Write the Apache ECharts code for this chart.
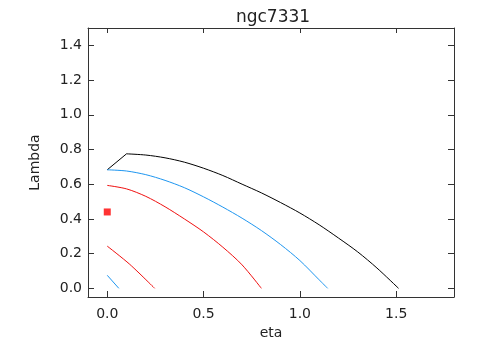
<!DOCTYPE html>
<html>
<head>
<meta charset="utf-8">
<script src="https://cdn.jsdelivr.net/npm/echarts@6/dist/echarts.min.js"></script>
<style>html,body{margin:0;padding:0;background:#fff}#c{width:481px;height:354px}</style>
</head>
<body>
<div id="c"></div>
<script>
var titleText = 'ngc7331';
var xName = 'eta';
var yName = 'Lambda';
var xTicks = [0, 0.5, 1.0, 1.5];
var yTicks = [0, 0.2, 0.4, 0.6, 0.8, 1.0, 1.2, 1.4];

var blackKinkX = [0, 0.1];
var blackKinkY = [0.683, 0.775];
var blackX = [0.1, 0.2, 0.3, 0.4, 0.5, 0.6, 0.7, 0.8, 0.9, 1.0, 1.1, 1.2, 1.3, 1.4, 1.512];
var blackY = [0.775, 0.768, 0.752, 0.727, 0.692, 0.65, 0.60, 0.55, 0.494, 0.434, 0.366, 0.29, 0.21, 0.117, 0.0];

var blueUpperX = [0, 0.1, 0.2, 0.3, 0.4, 0.5, 0.6, 0.7, 0.8, 0.9, 1.0, 1.1, 1.144];
var blueUpperY = [0.683, 0.676, 0.655, 0.622, 0.58, 0.527, 0.468, 0.404, 0.333, 0.252, 0.16, 0.049, 0.0];

var redUpperX = [0, 0.1, 0.2, 0.3, 0.4, 0.5, 0.6, 0.7, 0.8];
var redUpperY = [0.593, 0.573, 0.53, 0.47, 0.40, 0.325, 0.237, 0.135, 0.0];

var redLowerX = [0, 0.117, 0.246];
var redLowerY = [0.243, 0.138, 0.0];

var blueLowerX = [0, 0.06];
var blueLowerY = [0.075, 0.0];

var pointX = [0];
var pointY = [0.44];

function pairs(xs, ys) { return xs.map(function (x, i) { return [x, ys[i]]; }); }

var FONT = 'DejaVu Sans';
var axisColor = '#333';
var BLACK = '#000000', BLUE = '#1E96F0', RED = '#F01010';

var chart = echarts.init(document.getElementById('c'), null, { renderer: 'canvas' });
var fmt = function (v) { return v.toFixed(1); };

function lineSeries(data, color, smooth) {
  return { type: 'line', data: data, showSymbol: false, smooth: smooth ? 0.3 : false,
    lineStyle: { color: color, width: 1 }, itemStyle: { color: color },
    animation: false, silent: true };
}

chart.setOption({
  animation: false,
  backgroundColor: '#fff',
  title: { text: titleText, left: 268, top: 4, textAlign: 'center',
    textStyle: { fontFamily: FONT, fontSize: 17, fontWeight: 'normal', color: '#222' } },
  grid: { left: 88, right: 27, top: 28, bottom: 57, containLabel: false },
  xAxis: [
    { type: 'value', min: -0.1, max: 1.8, position: 'bottom',
      name: xName, nameLocation: 'middle', nameGap: 28,
      nameTextStyle: { fontFamily: FONT, fontSize: 14, color: '#222' },
      axisLine: { show: true, onZero: false, lineStyle: { color: axisColor, width: 1 } },
      axisTick: { show: true, inside: true, length: 6, customValues: xTicks, lineStyle: { color: axisColor } },
      axisLabel: { customValues: xTicks, formatter: fmt, margin: 10, fontFamily: FONT, fontSize: 14, color: '#222' },
      splitLine: { show: false } },
    { type: 'value', min: -0.1, max: 1.8, position: 'top',
      axisLine: { show: true, onZero: false, lineStyle: { color: axisColor, width: 1 } },
      axisTick: { show: true, inside: true, length: 5, customValues: xTicks, lineStyle: { color: axisColor } },
      axisLabel: { show: false }, splitLine: { show: false } }
  ],
  yAxis: [
    { type: 'value', min: -0.05, max: 1.5, position: 'left',
      name: yName, nameLocation: 'middle', nameGap: 46, nameRotate: 90,
      nameTextStyle: { fontFamily: FONT, fontSize: 14, color: '#222' },
      axisLine: { show: true, onZero: false, lineStyle: { color: axisColor, width: 1 } },
      axisTick: { show: true, inside: true, length: 6, customValues: yTicks, lineStyle: { color: axisColor } },
      axisLabel: { customValues: yTicks, formatter: fmt, margin: 6, fontFamily: FONT, fontSize: 14, color: '#222' },
      splitLine: { show: false } },
    { type: 'value', min: -0.05, max: 1.5, position: 'right',
      axisLine: { show: true, onZero: false, lineStyle: { color: axisColor, width: 1 } },
      axisTick: { show: true, inside: true, length: 6, customValues: yTicks, lineStyle: { color: axisColor } },
      axisLabel: { show: false }, splitLine: { show: false } }
  ],
  series: [
    lineSeries(pairs(blackKinkX, blackKinkY), BLACK, false),
    lineSeries(pairs(blackX, blackY), BLACK, true),
    lineSeries(pairs(blueUpperX, blueUpperY), BLUE, true),
    lineSeries(pairs(redUpperX, redUpperY), RED, true),
    lineSeries(pairs(redLowerX, redLowerY), RED, true),
    lineSeries(pairs(blueLowerX, blueLowerY), BLUE, false),
    { type: 'scatter', data: pairs(pointX, pointY), symbol: 'rect', symbolSize: 7,
      itemStyle: { color: '#FF0000' }, silent: true }
  ]
});
</script>
</body>
</html>
